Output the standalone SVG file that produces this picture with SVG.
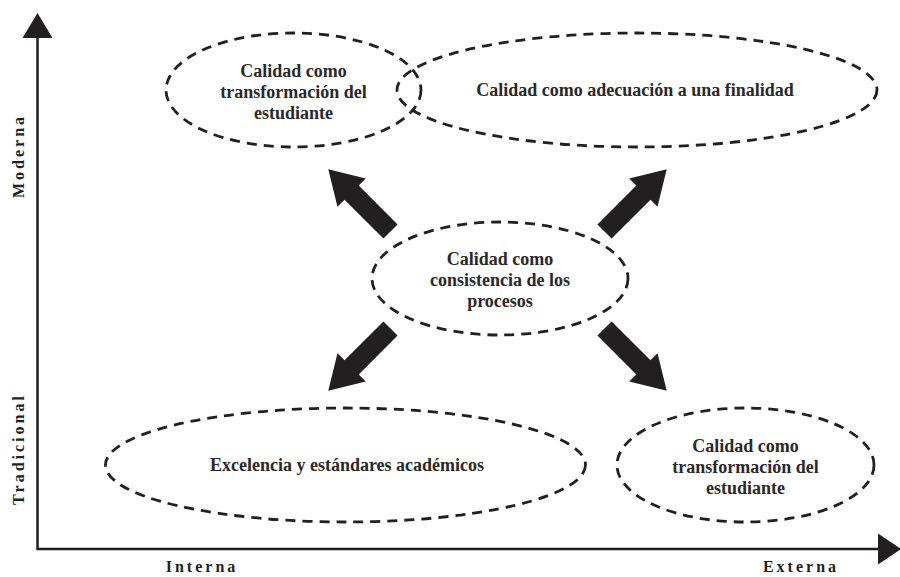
<svg xmlns="http://www.w3.org/2000/svg" width="900" height="577" viewBox="0 0 900 577">
<style>
.ell{fill:none;stroke:#231f20;stroke-width:2.8;stroke-dasharray:10 7}
.t{font-family:"Liberation Serif","Times New Roman",serif;font-weight:bold;font-size:18px;fill:#2b2829;text-anchor:middle}
.ax{font-family:"Liberation Serif","Times New Roman",serif;font-weight:bold;font-size:16px;fill:#231f20;text-anchor:middle;letter-spacing:3px}
.axis{fill:none;stroke:#231f20;stroke-width:2.5}
.head{fill:#231f20}
</style>
<defs>
<polygon id="blk" points="0,-10 55,-10 55,-20 88,0 55,20 55,10 0,10" fill="#231f20"/>
</defs>
<g id="axes">
<polyline class="axis" points="37.5,36 37.5,549 880,549"/>
<polygon class="head" points="37.5,13 52.5,38 22.5,38"/>
<polygon class="head" points="901,549 878,533.5 878,564.5"/>
<text class="ax" transform="translate(24,156) rotate(-90)">Moderna</text>
<text class="ax" transform="translate(24,449) rotate(-90)">Tradicional</text>
<text class="ax" x="202" y="572">Interna</text>
<text class="ax" x="801" y="572">Externa</text>
</g>
<g id="connectors">
<use href="#blk" transform="translate(390.5,231.5) rotate(-135)"/>
<use href="#blk" transform="translate(604.5,231.5) rotate(-45)"/>
<use href="#blk" transform="translate(390.5,328.5) rotate(135)"/>
<use href="#blk" transform="translate(604.5,328.5) rotate(45)"/>
</g>
<g id="n_transf_top">
<ellipse class="ell" cx="293.5" cy="90" rx="127.5" ry="57"/>
<text class="t" x="293.5" y="77">Calidad como</text>
<text class="t" x="293.5" y="98">transformación del</text>
<text class="t" x="293.5" y="119">estudiante</text>
</g>
<g id="n_adecuacion">
<ellipse class="ell" cx="637" cy="90" rx="240" ry="57"/>
<text class="t" x="635" y="96">Calidad como adecuación a una finalidad</text>
</g>
<g id="n_consistencia">
<ellipse class="ell" cx="500" cy="278.5" rx="128" ry="56.5"/>
<text class="t" x="500" y="265">Calidad como</text>
<text class="t" x="500" y="286">consistencia de los</text>
<text class="t" x="500" y="307">procesos</text>
</g>
<g id="n_excelencia">
<ellipse class="ell" cx="345.5" cy="465" rx="240" ry="57"/>
<text class="t" x="347" y="471">Excelencia y estándares académicos</text>
</g>
<g id="n_transf_bottom">
<ellipse class="ell" cx="745.5" cy="465" rx="128.5" ry="57"/>
<text class="t" x="745.5" y="452">Calidad como</text>
<text class="t" x="745.5" y="473">transformación del</text>
<text class="t" x="745.5" y="494">estudiante</text>
</g>
</svg>
